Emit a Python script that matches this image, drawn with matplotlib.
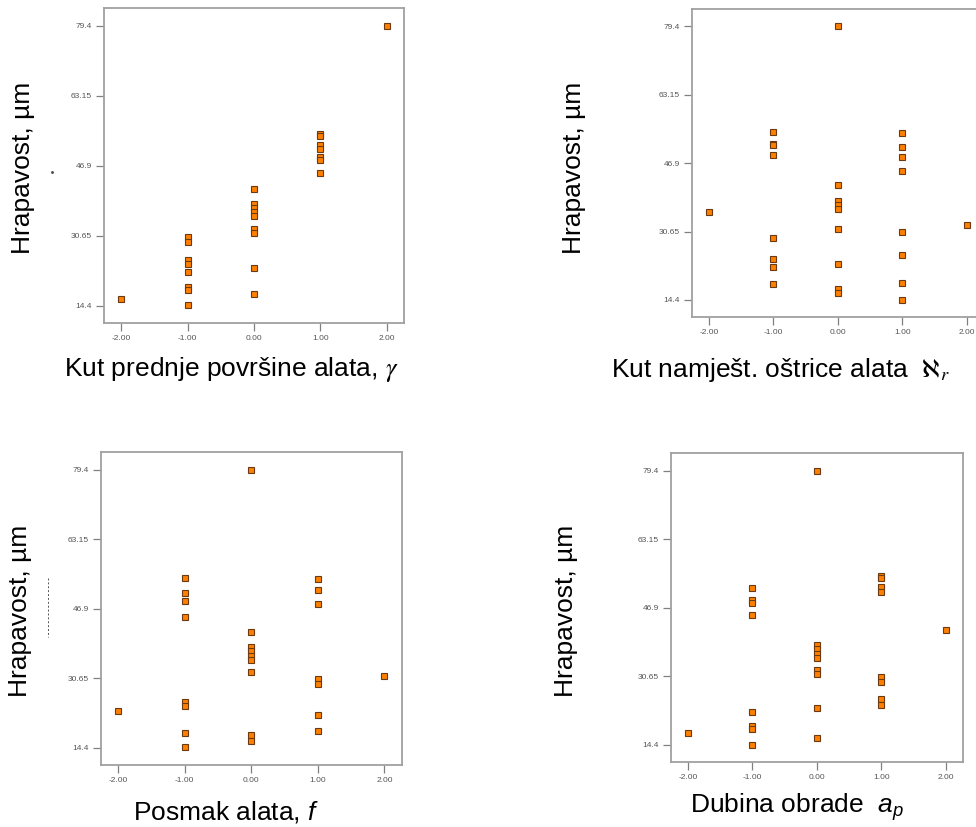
import matplotlib
matplotlib.use("Agg")
import matplotlib.pyplot as plt
from matplotlib.lines import Line2D

plt.rcParams["font.family"] = ["Liberation Sans", "DejaVu Sans"]
plt.rcParams["mathtext.fontset"] = "custom"
plt.rcParams["mathtext.rm"] = "Liberation Sans"
plt.rcParams["mathtext.it"] = "Liberation Sans:italic"

# kodirane razine faktora (x) i izmjerena hrapavost (y), ocitano sa slike
gamma_x = [-2, -1, -1, -1, -1, -1, -1, -1, -1,
           0, 0, 0, 0, 0, 0, 0, 0, 0,
           1, 1, 1, 1, 1, 1, 1, 2]
gamma_y = [16.0, 30.4, 29.2, 25.0, 24.1, 22.2, 18.6, 18.0, 14.5,
           41.5, 38.0, 37.0, 36.1, 35.1, 32.2, 31.2, 23.1, 17.1,
           54.3, 53.8, 51.7, 50.8, 48.8, 48.1, 45.1, 79.4]

kr_x = [-2, -1, -1, -1, -1, -1, -1, -1, -1,
        0, 0, 0, 0, 0, 0, 0, 0, 0,
        1, 1, 1, 1, 1, 1, 1, 1, 2]
kr_y = [35.2, 54.35, 51.5, 51.1, 48.9, 29.2, 24.1, 22.2, 18.1,
        79.4, 41.6, 37.9, 37.0, 36.0, 31.2, 23.0, 17.1, 16.0,
        54.1, 50.8, 48.25, 45.0, 30.5, 25.1, 18.5, 14.5, 32.1]

f_x = [-2, -1, -1, -1, -1, -1, -1, -1, -1,
       0, 0, 0, 0, 0, 0, 0, 0, 0,
       1, 1, 1, 1, 1, 1, 1, 2]
f_y = [23.0, 54.2, 50.5, 48.8, 44.9, 25.1, 24.1, 17.9, 14.5,
       79.4, 41.4, 37.9, 37.0, 35.9, 34.9, 32.0, 17.3, 15.9,
       53.9, 51.2, 48.1, 30.4, 29.2, 22.1, 18.4, 31.2]

ap_x = [-2, -1, -1, -1, -1, -1, -1, -1, -1,
        0, 0, 0, 0, 0, 0, 0, 0, 0,
        1, 1, 1, 1, 1, 1, 1, 1, 2]
ap_y = [17.1, 51.5, 48.7, 48.1, 45.1, 22.2, 18.7, 18.05, 14.4,
        79.4, 38.0, 37.0, 35.8, 35.0, 32.1, 31.1, 23.0, 16.0,
        54.4, 53.9, 51.7, 50.7, 30.4, 29.2, 25.2, 23.9, 41.5]

x_ticks = [-2.0, -1.0, 0.0, 1.0, 2.0]
y_ticks = [14.4, 30.65, 46.9, 63.15, 79.4]
y_tick_labels = ["14.4", "30.65", "46.9", "63.15", "79.4"]
y_label = "Hrapavost, \u00b5m"

W, H = 976, 827
fig = plt.figure(figsize=(W / 100, H / 100), dpi=100)


def panel(rect_px, xs, ys):
    l, t, r, b = rect_px
    ax = fig.add_axes([l / W, 1 - b / H, (r - l) / W, (b - t) / H])
    ax.plot(xs, ys, "s", ms=5.0, mfc="#ff8000", mec="#6b3a12", mew=0.8,
            linestyle="none", clip_on=False)
    ax.set_xlim(-2.26, 2.26)
    ax.set_ylim(10.35, 83.5)
    ax.set_xticks(x_ticks)
    ax.set_xticklabels([f"{v:.2f}" for v in x_ticks])
    ax.set_yticks(y_ticks)
    ax.set_yticklabels(y_tick_labels)
    for s in ax.spines.values():
        s.set_color("#a0a0a0")
        s.set_linewidth(1.3)
    ax.tick_params(direction="out", length=5.5, width=0.9, color="#808080",
                   labelsize=6, labelcolor="#555555", pad=3)
    return ax


panel((104, 8, 404, 323), gamma_x, gamma_y)
panel((692, 9, 983.5, 317), kr_x, kr_y)
panel((100.7, 452.3, 401.7, 765), f_x, f_y)
panel((671, 453.3, 962.7, 761.7), ap_x, ap_y)

# osi y
for cx, cy in [(23, 168), (574, 168), (20, 611), (566, 611)]:
    fig.text(cx / W, 1 - cy / H, y_label, rotation=90, fontsize=19,
             ha="center", va="center")

# osi x
fig.text(231 / W, 1 - 370 / H, r"Kut prednje površine alata, $\gamma$",
         fontsize=19, ha="center", va="center", math_fontfamily="stix")
fig.text(780 / W, 1 - 370 / H, r"Kut namješt. oštrice alata  $\aleph_r$",
         fontsize=19, ha="center", va="center", math_fontfamily="stix")
fig.text(226 / W, 1 - 812 / H, r"Posmak alata, $f$",
         fontsize=19, ha="center", va="center")
fig.text(797 / W, 1 - 807 / H, r"Dubina obrade  $a_p$",
         fontsize=19, ha="center", va="center")

# sitni ostaci sa skenirane slike
fig.add_artist(Line2D([52 / W], [1 - 172 / H], marker=".", ms=2,
                      color="#444444"))
fig.add_artist(Line2D([48 / W, 48 / W], [1 - 578 / H, 1 - 637 / H],
                      ls=(0, (2, 2)), lw=0.7, color="#555555"))

fig.savefig("out.png", dpi=100)
